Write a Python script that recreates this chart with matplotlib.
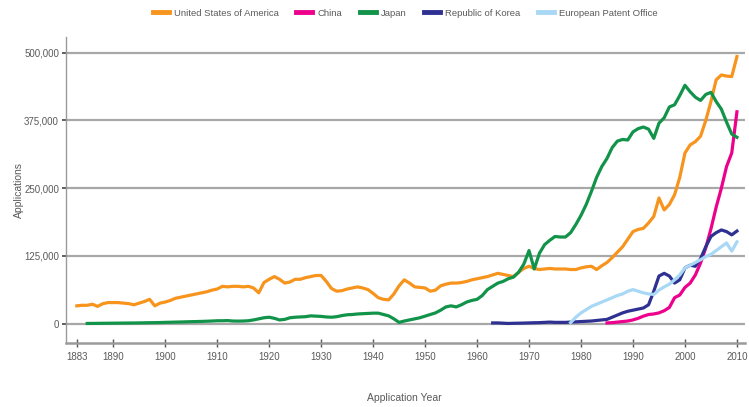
import numpy as np
import matplotlib
matplotlib.use("Agg")
import matplotlib.pyplot as plt
from matplotlib import font_manager

# ---------------- data (thousands of applications) ----------------
usa_years = np.arange(1883, 2011)
usa = [33, 34, 34, 36, 32, 37, 39, 39, 39, 38, 37, 35, 38, 41, 45, 33, 38,
       40, 43, 47, 49, 51, 53, 55, 57, 59, 62, 64, 69, 68, 69, 69, 68, 69, 66, 57, 76,
       82, 87, 82, 75, 77, 82, 82, 85, 87, 89, 89, 78, 65, 60, 61, 64, 66, 68, 66, 63,
       56, 48, 45, 44, 55, 70, 81, 75, 68, 67, 66, 60, 62, 70, 73, 75, 75, 76, 78, 81,
       83, 85, 87, 90, 93, 91, 89, 87, 95, 102, 106, 102, 100, 101, 102, 101, 101, 101,
       100, 100, 103, 105, 106, 100, 107, 113, 122, 132, 142, 156, 170, 174, 176, 186,
       198, 232, 210, 220, 238, 270, 315, 330, 336, 346, 375, 410, 450, 459, 457, 456, 493]

japan_years = np.arange(1885, 2011)
japan = [0.5, 0.6, 0.7, 0.8, 0.9, 1.0, 1.1, 1.2, 1.3, 1.4, 1.5, 1.7, 1.9, 2.0, 2.2,
         2.5, 2.7, 3.0, 3.2, 3.5, 3.8, 4.0, 4.3, 4.6, 5.0, 5.5, 5.5, 5.8, 5.0, 4.8, 5.0,
         5.5, 7, 9, 11, 12, 10, 7, 8, 11, 12, 12.5, 13, 14.5, 14, 13.5, 12.5, 12, 13, 15,
         16.5, 17, 18, 18.5, 19, 19.5, 19.5, 17, 14.5, 9, 2.5, 5, 7, 9, 11, 14, 17, 20, 25,
         31, 33, 31, 35, 40, 43, 45, 52, 63, 69, 75, 78, 83, 86, 95, 110, 135, 101, 130,
         146, 154, 161, 160, 160, 168, 183, 200, 220, 244, 270, 290, 305, 325, 337, 340,
         339, 354, 360, 363, 359, 342, 370, 380, 400, 404, 421, 440, 428, 418, 412, 423,
         427, 410, 396, 372, 350, 344]

korea_years = np.arange(1963, 2011)
korea = [1.5, 1.5, 1.0, 0.5, 0.8, 1.0, 1.2, 1.5, 1.8, 2.0, 2.5, 3.0, 2.5, 2.5, 2.5,
         3, 3.5, 4, 4.5, 5, 6, 7, 8, 12, 16, 20, 23, 25, 27, 29, 35, 60, 88, 93, 88, 75,
         81, 103, 108, 106, 120, 142, 161, 168, 173, 170, 164, 171]

epo_years = np.arange(1978, 2011)
epo = [2, 12, 20, 26, 32, 36, 40, 44, 48, 52, 55, 60, 63, 60, 57, 55, 54, 62, 68, 73,
       81, 90, 103, 108, 113, 118, 124, 128, 135, 142, 149, 134, 151]

china_years = np.arange(1985, 2011)
china = [1.5, 2, 3, 4, 5, 7, 10, 14, 17, 18, 20, 24, 30, 48, 53, 67, 75, 90, 112, 140,
         175, 215, 250, 290, 315, 391]

series_names = ["United States of America", "China", "Japan",
                "Republic of Korea", "European Patent Office"]
y_ticks = [0, 125000, 250000, 375000, 500000]
y_tick_labels = ["0", "125,000", "250,000", "375,000", "500,000"]
x_ticks = [1883, 1890, 1900, 1910, 1920, 1930, 1940, 1950, 1960, 1970, 1980, 1990, 2000, 2010]

# ---------------- style ----------------
names = {f.name for f in font_manager.fontManager.ttflist}
fam = ["Liberation Sans Narrow", "DejaVu Sans"] if "Liberation Sans Narrow" in names else ["Liberation Sans", "DejaVu Sans"]
plt.rcParams["font.family"] = fam

colors = ["#F7941D", "#EC008C", "#12934A", "#2E3192", "#A8D8F5"]
txt = "#5a5a5a"

fig = plt.figure(figsize=(7.49, 4.07), dpi=100)
ax = fig.add_axes([0.088, 0.158, 0.907, 0.751])

data = [(usa_years, usa), (china_years, china), (japan_years, japan),
        (korea_years, korea), (epo_years, epo)]
for (yrs, vals), c, n in zip(data, colors, series_names):
    ax.plot(yrs, np.array(vals) * 1000, color=c, lw=2.3, label=n, zorder=3,
            solid_joinstyle="round")

ax.set_xlim(1880.9, 2011.6)
ax.set_ylim(-35000, 529000)
ax.set_yticks(y_ticks)
ax.set_yticklabels(y_tick_labels)
ax.set_xticks(x_ticks)
ax.set_xticklabels([str(t) for t in x_ticks])
ax.yaxis.grid(True, color="#a8a8a8", lw=1.6, zorder=1)
ax.set_axisbelow(True)

for s in ["top", "right"]:
    ax.spines[s].set_visible(False)
ax.spines["left"].set_color("#9a9a9a")
ax.spines["left"].set_linewidth(1.0)
ax.spines["bottom"].set_color("#9a9a9a")
ax.spines["bottom"].set_linewidth(1.8)

ax.tick_params(axis="x", direction="inout", length=6, width=1, color="#555555",
               labelsize=7, labelcolor=txt, pad=4)
ax.tick_params(axis="y", direction="out", length=3, width=1.2, color="#444444",
               labelsize=7, labelcolor=txt, pad=2)

ax.set_xlabel("Application Year", fontsize=7.5, color=txt)
ax.xaxis.set_label_coords(0.498, -0.165)
ax.set_ylabel("Applications", fontsize=7.5, color=txt)
ax.yaxis.set_label_coords(-0.061, 0.5)

leg = fig.legend(loc="upper center", bbox_to_anchor=(0.541, 1.0), ncol=5,
                 frameon=False, fontsize=6.8, handlelength=1.7, handletextpad=0.5,
                 columnspacing=1.9, labelcolor=txt)
for l in leg.get_lines():
    l.set_linewidth(3.5)

fig.savefig("out.png", dpi=100)
